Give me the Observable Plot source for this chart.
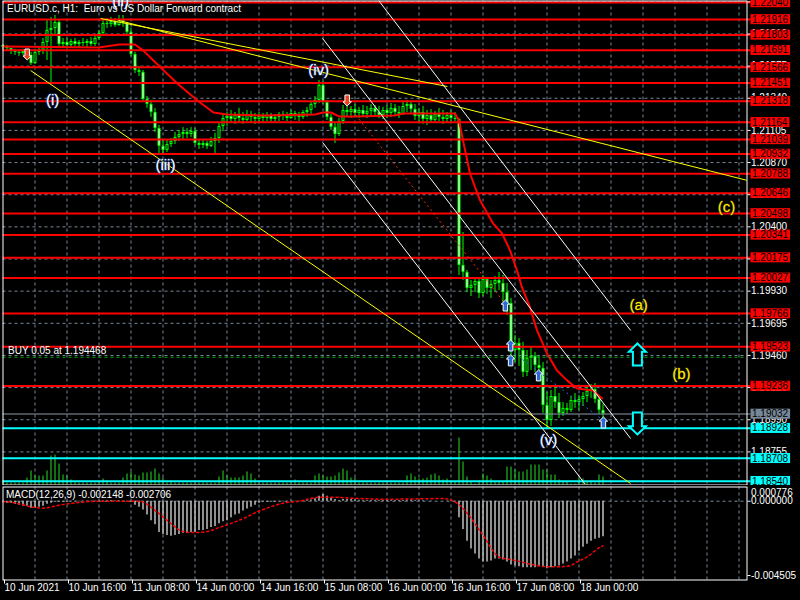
<!DOCTYPE html>
<html><head><meta charset="utf-8">
<script src="https://cdn.jsdelivr.net/npm/d3@7"></script>
<script src="https://cdn.jsdelivr.net/npm/@observablehq/plot@0.6"></script>
<style>
html,body{margin:0;padding:0;background:#000;}
#chart{position:relative;width:800px;height:600px;background:#000;overflow:hidden;}
#chart svg{position:absolute;left:0;}
</style></head><body><div id="chart"></div>
<script>
// ---------- DATA ----------
const symbolTitle = "EURUSD.c, H1:\u00a0 Euro vs US Dollar Forward contract";
const macdTitle = "MACD(12,26,9) -0.002148 -0.002706";
// hourly bars, index 0 = 10 Jun 2021 00:00 (weekend skipped)
const firstOpen = 1.21726;
const high = [
1.21733,1.21726,1.21704,1.21697,1.21690,1.21697,1.21690,1.21675,1.21690,1.21704,
1.21777,1.21909,1.21931,1.21945,1.21909,1.21777,1.21777,1.21770,1.21777,1.21763,
1.21777,1.21770,1.21785,1.21806,1.21836,1.21909,1.21923,1.21931,1.21923,1.21945,
1.21945,1.21894,1.21850,1.21675,1.21573,1.21543,1.21353,1.21324,1.21266,1.21141,
1.21032,1.21032,1.21046,1.21090,1.21105,1.21127,1.21119,1.21127,1.21119,1.21039,
1.21032,1.21024,1.21054,1.21083,1.21163,1.21229,1.21236,1.21251,1.21236,1.21266,
1.21236,1.21251,1.21244,1.21229,1.21236,1.21229,1.21236,1.21229,1.21222,1.21236,
1.21244,1.21236,1.21251,1.21244,1.21236,1.21251,1.21273,1.21317,1.21353,1.21470,
1.21463,1.21324,1.21222,1.21163,1.21192,1.21287,1.21317,1.21280,1.21295,1.21273,
1.21287,1.21280,1.21295,1.21287,1.21280,1.21273,1.21287,1.21302,1.21295,1.21280,
1.21309,1.21324,1.21317,1.21295,1.21266,1.21280,1.21251,1.21258,1.21244,1.21266,
1.21251,1.21236,1.21251,1.21236,1.21192,1.20359,1.20081,1.20008,1.20030,1.20015,
1.20045,1.20030,1.20008,1.20037,1.20067,1.20045,1.19986,1.19877,1.19606,1.19584,
1.19555,1.19496,1.19526,1.19482,1.19460,1.19409,1.19189,1.19204,1.19241,1.19182,
1.19116,1.19109,1.19160,1.19182,1.19168,1.19189,1.19233,1.19248,1.19255,1.19168,1.19102];
const low = [
1.21690,1.21690,1.21660,1.21653,1.21646,1.21653,1.21631,1.21580,1.21587,1.21653,
1.21660,1.21616,1.21456,1.21799,1.21719,1.21704,1.21704,1.21711,1.21719,1.21704,
1.21719,1.21711,1.21719,1.21719,1.21763,1.21799,1.21850,1.21858,1.21858,1.21865,
1.21858,1.21806,1.21646,1.21521,1.21499,1.21309,1.21266,1.21200,1.21090,1.20937,
1.20929,1.20944,1.20980,1.21002,1.21024,1.21039,1.21046,1.21054,1.20995,1.20966,
1.20973,1.20966,1.20980,1.20937,1.21010,1.21097,1.21134,1.21163,1.21149,1.21163,
1.21149,1.21170,1.21156,1.21149,1.21156,1.21163,1.21170,1.21163,1.21163,1.21170,
1.21178,1.21170,1.21185,1.21178,1.21170,1.21185,1.21200,1.21222,1.21266,1.21302,
1.21295,1.21178,1.21105,1.21010,1.21061,1.21149,1.21207,1.21192,1.21207,1.21192,
1.21200,1.21192,1.21200,1.21207,1.21192,1.21185,1.21192,1.21200,1.21207,1.21192,
1.21214,1.21236,1.21222,1.21178,1.21163,1.21149,1.21141,1.21163,1.21156,1.21170,
1.21149,1.21156,1.21163,1.21170,1.20045,1.20008,1.19920,1.19891,1.19920,1.19877,
1.19891,1.19906,1.19877,1.19920,1.19935,1.19847,1.19752,1.19409,1.19409,1.19380,
1.19299,1.19306,1.19350,1.19336,1.19299,1.19036,1.18926,1.18941,1.19073,1.18999,
1.19014,1.19029,1.19043,1.19073,1.19058,1.19087,1.19116,1.19146,1.19109,1.19029,1.18948];
const close = [
1.21711,1.21704,1.21682,1.21675,1.21668,1.21682,1.21653,1.21594,1.21675,1.21690,
1.21748,1.21836,1.21850,1.21894,1.21733,1.21748,1.21726,1.21755,1.21733,1.21748,
1.21741,1.21755,1.21733,1.21777,1.21814,1.21887,1.21880,1.21901,1.21872,1.21909,
1.21887,1.21821,1.21660,1.21543,1.21529,1.21331,1.21295,1.21236,1.21119,1.20988,
1.20959,1.21002,1.21024,1.21054,1.21075,1.21090,1.21075,1.21097,1.21010,1.20995,
1.21010,1.20988,1.21024,1.21046,1.21134,1.21192,1.21207,1.21185,1.21214,1.21192,
1.21178,1.21222,1.21200,1.21185,1.21207,1.21192,1.21214,1.21185,1.21200,1.21222,
1.21207,1.21192,1.21229,1.21214,1.21200,1.21236,1.21251,1.21295,1.21324,1.21434,
1.21309,1.21200,1.21127,1.21075,1.21170,1.21251,1.21236,1.21258,1.21229,1.21251,
1.21222,1.21244,1.21266,1.21236,1.21214,1.21251,1.21229,1.21266,1.21236,1.21222,
1.21280,1.21295,1.21258,1.21207,1.21236,1.21185,1.21214,1.21178,1.21222,1.21200,
1.21185,1.21214,1.21192,1.21185,1.20118,1.20067,1.19950,1.19972,1.20001,1.19913,
1.20015,1.19950,1.19979,1.20008,1.19986,1.19920,1.19840,1.19496,1.19548,1.19496,
1.19336,1.19438,1.19453,1.19387,1.19365,1.19094,1.18985,1.19160,1.19116,1.19036,
1.19073,1.19058,1.19131,1.19116,1.19138,1.19160,1.19197,1.19211,1.19138,1.19058,1.19032];
const volume = [
400,200,200,200,200,200,700,1400,900,900, 900,1400,2900,3000,2100,1000,900,500,300,200,
200,200,200,200,200,600,400,200,200,200, 700,1100,1300,1000,900,1200,1200,1300,1600,1100,
700,200,400,200,200,200,200,200,200,200, 200,200,200,200,800,1400,900,700,700,700,
900,1300,1100,600,200,200,200,200,200,200, 200,200,200,500,200,200,200,200,900,1100,
900,800,800,900,1200,1600,1400,700,700,200, 200,200,200,200,200,200,200,200,200,200,
200,900,1100,800,600,600,700,1000,1100,900, 500,600,300,300,4700,2300,800,300,100,400,
1100,900,600,300,300,300,1800,1800,1500,1300, 1300,1500,2000,2000,2000,1500,1500,1000,1000,500,
300,300,100,100,700,600,300,300,200,1000,800];
const macdMain = [
-0.00006,-0.00012,-0.00012,-0.00018,-0.00024,-0.00030,-0.00030,-0.00042,-0.00042,-0.00036,
-0.00030,-0.00018,-0.00012,-0.00006,-0.00006,-0.00006,-0.00006,-0.00004,-0.00003,-0.00003,
-0.00002,-0.00003,-0.00002,-0.00002,0.00002,0.00003,0.00004,0.00004,0.00003,0.00002,
0.00001,-0.00002,-0.00006,-0.00024,-0.00036,-0.00053,-0.00083,-0.00119,-0.00142,-0.00190,
-0.00202,-0.00208,-0.00213,-0.00208,-0.00202,-0.00196,-0.00196,-0.00190,-0.00190,-0.00178,
-0.00178,-0.00172,-0.00160,-0.00154,-0.00136,-0.00125,-0.00119,-0.00101,-0.00083,-0.00077,
-0.00059,-0.00047,-0.00036,-0.00024,-0.00012,-0.00006,-0.00006,-0.00006,-0.00006,-0.00004,
-0.00003,-0.00003,-0.00002,-0.00002,-0.00001,0.00002,0.00004,0.00008,0.00015,0.00030,
0.00040,0.00030,0.00020,0.00010,0.00005,0.00010,0.00012,0.00010,0.00008,0.00006,
0.00005,0.00004,0.00005,0.00006,0.00005,0.00004,0.00005,0.00006,0.00005,0.00004,
0.00005,0.00007,0.00008,0.00005,0.00003,0.00002,0.00001,0.00001,0.00000,-0.00001,
-0.00001,-0.00002,-0.00002,-0.00003,-0.00101,-0.00172,-0.00243,-0.00290,-0.00320,-0.00350,
-0.00368,-0.00368,-0.00362,-0.00350,-0.00350,-0.00356,-0.00368,-0.00386,-0.00392,-0.00398,
-0.00403,-0.00403,-0.00403,-0.00403,-0.00398,-0.00398,-0.00409,-0.00403,-0.00398,-0.00392,
-0.00380,-0.00368,-0.00350,-0.00332,-0.00303,-0.00279,-0.00261,-0.00243,-0.00231,-0.00225,-0.002148];
// MACD signal line, read at bar positions
const signalBar = [0,2,7.5,10,14,17.5,24,34,38.5,41.75,45,47.5,51,54,57.5,61,63.5,66,70,74,79,82.5,87.5,96,110,113.5,116,118.5,121,122.5,124,127.5,132.5,136,139.25,141.75,143.5,146,149.25,150];
const signalVal = [-0.00003,-0.00006,-0.00036,-0.00042,-0.00024,-0.00012,0,0,-0.00065,-0.0013,-0.00184,-0.0019,-0.00184,-0.0016,-0.0013,-0.00095,-0.00065,-0.00042,-0.00012,0,0.00024,0.00024,0.00018,0.00012,0.00016,-0.00012,-0.00071,-0.00154,-0.00243,-0.00302,-0.00338,-0.00356,-0.00385,-0.00397,-0.00397,-0.00391,-0.00368,-0.00338,-0.00279,-0.002706];
// moving average (red), read at bar positions
const maBar = [0,24,29,33,35,39.4,43.6,48.6,52.6,56,65,78,80,82,84,88,98,100,112,113,114,115,116.75,119.25,122.5,124.75,126.75,128.5,129.75,131.75,133.5,136,138.5,141,143.5,147.5,149.75];
const maVal = [1.21719,1.21711,1.21733,1.21733,1.21690,1.21565,1.21448,1.21324,1.21236,1.21222,1.21214,1.21222,1.21236,1.21236,1.21207,1.21207,1.21214,1.21229,1.21229,1.21229,1.21178,1.21032,1.20790,1.20594,1.20425,1.20352,1.20228,1.20081,1.19957,1.19811,1.19643,1.19475,1.19350,1.19278,1.19219,1.19204,1.19146];
// horizontal levels
const redLevels = [1.22040,1.21916,1.21803,1.21691,1.21566,1.21451,1.21318,1.21164,1.21039,1.20932,1.20788,1.20646,1.20498,1.20341,1.20175,1.20027,1.19766,1.19523,1.19236];
const bidPrice = 1.19032;
const cyanLevels = [1.18928,1.18708,1.18540];
const buyOrderLots = 0.05, buyOrderPrice = 1.194468;
const priceTicks = [1.18755,1.18990,1.19225,1.19460,1.19695,1.19930,1.20165,1.20400,1.20635,1.20870,1.21105,1.21340,1.21575,1.21810,1.22045];
const macdTicks = [0, -0.004505];
const macdMaxLabel = 0.000776;
// time axis
const timeTickBar = [0,16,32,48,64,80,96,112,128,144];
const timeTickLabel = ["10 Jun 2021","10 Jun 16:00","11 Jun 08:00","14 Jun 00:00","14 Jun 16:00","15 Jun 08:00","16 Jun 00:00","16 Jun 16:00","17 Jun 08:00","18 Jun 00:00"];
// drawn objects (bar, price)
const yellowLines = [[24.4,1.21923,111.1,1.21426],[28.9,1.21909,186,1.20740],[6.9,1.21543,156.9,1.18524]];
const whiteLines = [[93.9,1.22055,156.9,1.19643],[79.9,1.21777,156.9,1.18853],[79.9,1.21017,145.6,1.18517]];
const sellTrade = [85.9,1.21302,125.9,1.19825];
const buyTrade = [126.9,1.19496,150.1,1.18985];
const sellArrowBar = [6.05,86.05], sellArrowPrice = [1.21660,1.21324];
const buyArrowBar = [125.6,126.9,126.9,133.9,150.1], buyArrowPrice = [1.19825,1.19533,1.19424,1.19314,1.18970];
const bigUpBar = 158.6, bigUpPrice = 1.19467, bigDownBar = 158.6, bigDownPrice = 1.18963;
const waveText = ["(i)","(ii)","(iii)","(iv)","(v)"];
const waveBar = [12.4,29.4,40.6,78.9,136.4];
const wavePrice = [1.21324,1.22048,1.20849,1.21543,1.18839];
const corrText = ["(a)","(b)","(c)"];
const corrBar = [158.9,169.6,180.9];
const corrPrice = [1.19825,1.19321,1.20542];

// ---------- BUILD ----------
const FONT = "'Liberation Sans', Arial, sans-serif";
const GRID = "#778899";
const xDom = [0, 186];
const yDom = [1.18513, 1.22051];
const gridBars = d3.range(8, 186, 8);

const bars = close.map((c, i) => {
  const o = i === 0 ? firstOpen : close[i - 1];
  return {i, open: o, close: c, high: Math.max(high[i], o, c), low: Math.min(low[i], o, c),
          top: Math.max(o, c), bot: Math.min(o, c), bear: c < o, vol: volume[i]};
});
const maxVol = d3.max(volume);
const volShare = 0.097;
const ma = maBar.map((b, k) => ({i: b, v: maVal[k]}));
const seg = a => ({x1: a[0], y1: a[1], x2: a[2], y2: a[3]});

const arrowUp = {draw(ctx, size) { const r = Math.sqrt(size / Math.PI);
  ctx.moveTo(0, -1.22*r); ctx.lineTo(0.94*r, -0.3*r); ctx.lineTo(0.5*r, -0.3*r); ctx.lineTo(0.5*r, 1.22*r);
  ctx.lineTo(-0.5*r, 1.22*r); ctx.lineTo(-0.5*r, -0.3*r); ctx.lineTo(-0.94*r, -0.3*r); ctx.closePath(); }};
const arrowDown = {draw(ctx, size) { const r = Math.sqrt(size / Math.PI);
  ctx.moveTo(0, 1.22*r); ctx.lineTo(0.94*r, 0.3*r); ctx.lineTo(0.5*r, 0.3*r); ctx.lineTo(0.5*r, -1.22*r);
  ctx.lineTo(-0.5*r, -1.22*r); ctx.lineTo(-0.5*r, 0.3*r); ctx.lineTo(-0.94*r, 0.3*r); ctx.closePath(); }};

const style = {background: "black", color: "white", fontFamily: FONT, fontSize: "10px", overflow: "visible"};

const main = Plot.plot({
  width: 800, height: 485,
  marginTop: 0.5, marginBottom: 0.5, marginLeft: 2.5, marginRight: 53.5,
  x: {domain: xDom, axis: null},
  y: {domain: yDom},
  style,
  marks: [
    Plot.ruleX(gridBars, {x: d => d, stroke: GRID, strokeDasharray: "3,3"}),
    Plot.ruleY(priceTicks, {y: d => d, stroke: GRID, strokeDasharray: "3,3"}),
    Plot.ruleX(bars, {x: "i", y1: () => yDom[0], y2: d => yDom[0] + d.vol / maxVol * volShare * (yDom[1] - yDom[0]), stroke: "#22dd22", strokeWidth: 1}),
    Plot.ruleX(bars, {x: "i", y1: "low", y2: "high", stroke: "#00ff00", strokeWidth: 1}),
    Plot.ruleX(bars, {x: "i", y1: "top", y2: "bot", stroke: "#00ff00", strokeWidth: 3}),
    Plot.ruleX(bars.filter(d => d.top - d.bot > 0.0002), {x: "i", y1: "top", y2: "bot", insetTop: 1, insetBottom: 1, stroke: d => d.bear ? "white" : "black", strokeWidth: 1}),
    Plot.line(ma, {x: "i", y: "v", stroke: "#ff0000", strokeWidth: 2}),
    Plot.ruleY([buyOrderPrice], {y: d => d, stroke: "#00b000", strokeDasharray: "3,3"}),
    Plot.ruleY(redLevels, {y: d => d, stroke: "#ff0000", strokeWidth: 2, insetRight: -4}),
    Plot.ruleY([bidPrice], {y: d => d, stroke: "#8c9aa8", strokeWidth: 1, insetRight: -4}),
    Plot.ruleY(cyanLevels, {y: d => d, stroke: "#00ffff", strokeWidth: 2, insetRight: -4}),
    Plot.link(yellowLines.map(seg), {x1: "x1", y1: "y1", x2: "x2", y2: "y2", stroke: "#ffff00", strokeWidth: 1, clip: true}),
    Plot.link(whiteLines.map(seg), {x1: "x1", y1: "y1", x2: "x2", y2: "y2", stroke: "white", strokeWidth: 1, clip: true}),
    Plot.link([seg(sellTrade)], {x1: "x1", y1: "y1", x2: "x2", y2: "y2", stroke: "#ff2a00", strokeWidth: 1, strokeDasharray: "2,3"}),
    Plot.link([seg(buyTrade)], {x1: "x1", y1: "y1", x2: "x2", y2: "y2", stroke: "#1e64dc", strokeWidth: 1, strokeDasharray: "2,3"}),
    Plot.dot(sellArrowBar.map((b, k) => ({b, p: sellArrowPrice[k]})), {x: "b", y: "p", symbol: arrowDown, r: 4.5, fill: "#e8401c", stroke: "white", strokeWidth: 1}),
    Plot.dot(buyArrowBar.map((b, k) => ({b, p: buyArrowPrice[k]})), {x: "b", y: "p", symbol: arrowUp, r: 4.5, fill: "#2a6ad8", stroke: "white", strokeWidth: 1}),
    Plot.dot([{b: bigUpBar, p: bigUpPrice}], {x: "b", y: "p", symbol: arrowUp, r: 9, fill: "black", stroke: "#00ffff", strokeWidth: 2}),
    Plot.dot([{b: bigDownBar, p: bigDownPrice}], {x: "b", y: "p", symbol: arrowDown, r: 9, fill: "black", stroke: "#00ffff", strokeWidth: 2}),
    Plot.text(waveText.map((t, k) => ({t, b: waveBar[k], p: wavePrice[k]})), {x: "b", y: "p", text: "t", fill: "white", stroke: "#2a4fa8", strokeWidth: 1, paintOrder: "stroke", fontSize: 15}),
    Plot.text(corrText.map((t, k) => ({t, b: corrBar[k], p: corrPrice[k]})), {x: "b", y: "p", text: "t", fill: "#ffee00", stroke: "#5a4a00", strokeWidth: 0.8, paintOrder: "stroke", fontSize: 15}),
    Plot.text([symbolTitle], {text: d => d, frameAnchor: "top-left", dx: 4, dy: 4, fill: "white", fontSize: 10}),
    Plot.text([buyOrderPrice], {y: d => d, text: d => `BUY ${buyOrderLots.toFixed(2)} at ${d}`, frameAnchor: "left", dx: 5, dy: -6, textAnchor: "start", fill: "white", fontSize: 10}),
    Plot.frame({stroke: "white"}),
    Plot.axisY({anchor: "right", ticks: priceTicks, tickFormat: d => d.toFixed(5), tickSize: 3, tickPadding: 1, label: null}),
    Plot.text(redLevels, {y: d => d, text: d => d.toFixed(5), frameAnchor: "right", dx: 5, textAnchor: "start", fill: "black", ariaLabel: () => "lbl-red"}),
    Plot.text([bidPrice], {y: d => d, text: d => d.toFixed(5), frameAnchor: "right", dx: 5, textAnchor: "start", fill: "black", ariaLabel: () => "lbl-gray"}),
    Plot.text(cyanLevels, {y: d => d, text: d => d.toFixed(5), frameAnchor: "right", dx: 5, textAnchor: "start", fill: "black", ariaLabel: () => "lbl-cyan"})
  ]
});

const macdRows = macdMain.map((v, i) => ({i, v}));
const sig = signalBar.map((b, k) => ({i: b, v: signalVal[k]}));
const macd = Plot.plot({
  width: 800, height: 115,
  marginTop: 1.5, marginBottom: 20.5, marginLeft: 2.5, marginRight: 53.5,
  x: {domain: xDom},
  y: {domain: [-0.004776, 0.000861]},
  style,
  marks: [
    Plot.ruleX(gridBars, {x: d => d, stroke: GRID, strokeDasharray: "3,3"}),
    Plot.ruleY([0], {y: d => d, stroke: GRID, strokeDasharray: "3,3"}),
    Plot.ruleX(macdRows, {x: "i", y1: () => 0, y2: "v", stroke: "#c0c0c0", strokeWidth: 1.5}),
    Plot.line(sig, {x: "i", y: "v", stroke: "#ff0000", strokeWidth: 1.5, strokeDasharray: "2,3", curve: "monotone-x"}),
    Plot.text([macdTitle], {text: d => d, frameAnchor: "top-left", dx: 3, dy: 4, fill: "white", fontSize: 10}),
    Plot.frame({stroke: "white"}),
    Plot.axisX({ticks: timeTickBar, tickFormat: d => timeTickLabel[timeTickBar.indexOf(d)], tickSize: 4, tickPadding: 0, textAnchor: "start", dx: 1.5, label: null}),
    Plot.axisY({anchor: "right", ticks: macdTicks, tickFormat: d => d.toFixed(6), tickSize: 3, tickPadding: 1, label: null}),
    Plot.text([macdMaxLabel], {y: d => d, text: d => d.toFixed(6), frameAnchor: "right", dx: 4, dy: 4, textAnchor: "start", fill: "white"})
  ]
});

const host = document.getElementById("chart");
main.style.top = "0px";
macd.style.top = "485px";
host.appendChild(main);
host.appendChild(macd);

function boxify(svg, label, fill) {
  const nodes = new Set([
    ...svg.querySelectorAll(`text[aria-label="${label}"]`),
    ...svg.querySelectorAll(`g[aria-label="${label}"] text`)
  ]);
  nodes.forEach(t => {
    const b = t.getBBox();
    const r = document.createElementNS("http://www.w3.org/2000/svg", "rect");
    r.setAttribute("x", b.x - 1.5);
    r.setAttribute("y", b.y + 0.5);
    r.setAttribute("width", b.width + 3);
    r.setAttribute("height", b.height - 1);
    r.setAttribute("fill", fill);
    const tr = t.getAttribute("transform");
    if (tr) r.setAttribute("transform", tr);
    t.parentNode.insertBefore(r, t);
  });
}
boxify(main, "lbl-red", "#ff0000");
boxify(main, "lbl-gray", "#778899");
boxify(main, "lbl-cyan", "#00ffff");
</script></body></html>
